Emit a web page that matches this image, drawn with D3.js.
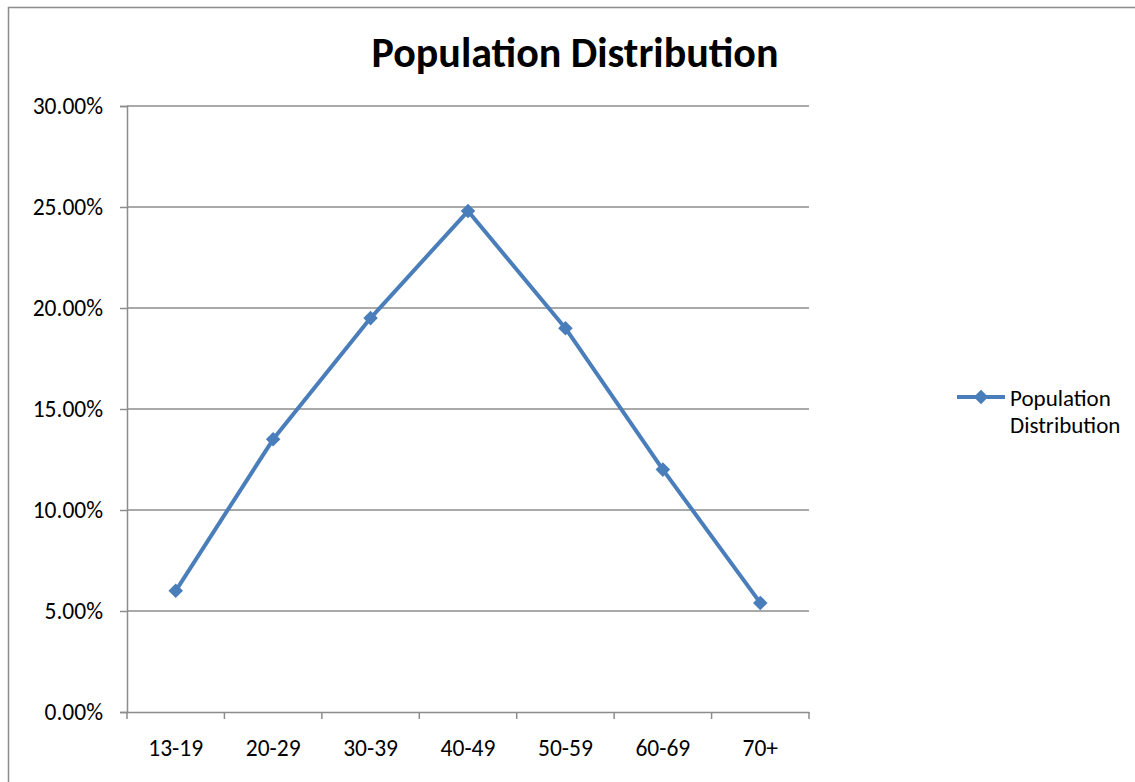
<!DOCTYPE html>
<html>
<head>
<meta charset="utf-8">
<script src="https://cdn.jsdelivr.net/npm/d3@7"></script>
<style>
  html, body { margin: 0; padding: 0; background: #fff; }
  svg { display: block; font-family: Carlito, Calibri, Lato, "Liberation Sans", sans-serif; }
</style>
</head>
<body>
<svg id="chart" width="1135" height="782"></svg>
<script>
// Share of population in each age group
const ageGroups = ["13-19", "20-29", "30-39", "40-49", "50-59", "60-69", "70+"];
const shares = [0.060, 0.135, 0.195, 0.248, 0.190, 0.120, 0.054];
const yTicks = [0, 0.05, 0.10, 0.15, 0.20, 0.25, 0.30];
const seriesName = "Population Distribution";
const chartTitle = "Population Distribution";

const svg = d3.select("#chart");
const W = 1135, H = 782;
const plot = { left: 127, top: 106, right: 809, bottom: 712 };
const lineColor = "#4a7ebb";
const gridColor = "#8c8c8c";
const labelFont = "Carlito, Calibri, Lato, 'Liberation Sans', sans-serif";

// Outer chart frame
svg.append("rect")
  .attr("x", 8.5).attr("y", 7.5)
  .attr("width", W + 20).attr("height", H + 20)
  .attr("fill", "#fff").attr("stroke", "#8c8c8c").attr("stroke-width", 1.5);

const x = d3.scaleBand().domain(ageGroups).range([plot.left, plot.right]).padding(0);
const y = d3.scaleLinear().domain([0, 0.30]).range([plot.bottom, plot.top]);

// Horizontal gridlines
svg.append("g")
  .selectAll("line")
  .data(yTicks.filter(t => t > 0))
  .join("line")
  .attr("x1", plot.left).attr("x2", plot.right)
  .attr("y1", d => y(d)).attr("y2", d => y(d))
  .attr("stroke", gridColor).attr("stroke-width", 1.5);

// Y axis
const yAxis = svg.append("g")
  .attr("transform", `translate(${plot.left},0)`)
  .call(d3.axisLeft(y).tickValues(yTicks).tickFormat(d3.format(".2%")).tickSize(7).tickPadding(17));
yAxis.select(".domain").attr("stroke", gridColor).attr("stroke-width", 1.5);
yAxis.selectAll(".tick line").attr("stroke", gridColor).attr("stroke-width", 1.5);
yAxis.selectAll(".tick text")
  .attr("font-size", 23.5).attr("fill", "#000")
  .attr("font-family", labelFont);

// X axis with tick marks on category boundaries
const xAxis = svg.append("g")
  .attr("transform", `translate(0,${plot.bottom})`)
  .call(d3.axisBottom(x).tickSize(0).tickPadding(0));
xAxis.select(".domain").attr("stroke", gridColor).attr("stroke-width", 1.5);
xAxis.selectAll(".tick text")
  .attr("y", 36).attr("dy", "0.35em")
  .attr("font-size", 23.5).attr("fill", "#000")
  .attr("font-family", labelFont);
const boundaries = ageGroups.map(g => x(g)).concat([plot.right]);
xAxis.append("g")
  .selectAll("line")
  .data(boundaries)
  .join("line")
  .attr("x1", d => d).attr("x2", d => d)
  .attr("y1", 0).attr("y2", 7)
  .attr("stroke", gridColor).attr("stroke-width", 1.5);

// Data line
const cx = d => x(d) + x.bandwidth() / 2;
const line = d3.line()
  .x((d, i) => cx(ageGroups[i]))
  .y(d => y(d));
svg.append("path")
  .datum(shares)
  .attr("d", line)
  .attr("fill", "none")
  .attr("stroke", lineColor)
  .attr("stroke-width", 4)
  .attr("stroke-linejoin", "round");

// Diamond markers
const diamond = d3.symbol().type(d3.symbolDiamond2).size(135);
svg.append("g")
  .selectAll("path")
  .data(shares)
  .join("path")
  .attr("d", diamond)
  .attr("transform", (d, i) => `translate(${cx(ageGroups[i])},${y(d)})`)
  .attr("fill", lineColor);

// Title
svg.append("text")
  .attr("x", 575).attr("y", 67)
  .attr("text-anchor", "middle")
  .attr("font-size", 42).attr("font-weight", "bold")
  .attr("fill", "#000")
  .text(chartTitle);

// Legend
const lg = svg.append("g").attr("transform", "translate(957,397)");
lg.append("line")
  .attr("x1", 0).attr("x2", 48).attr("y1", 0).attr("y2", 0)
  .attr("stroke", lineColor).attr("stroke-width", 4);
lg.append("path")
  .attr("d", diamond)
  .attr("transform", "translate(24,0)")
  .attr("fill", lineColor);
const words = seriesName.split(" ");
lg.append("text")
  .attr("y", 9)
  .attr("font-size", 23).attr("fill", "#000")
  .selectAll("tspan")
  .data(words)
  .join("tspan")
  .attr("x", 53)
  .attr("dy", (d, i) => i === 0 ? 0 : 27)
  .text(d => d);
</script>
</body>
</html>
